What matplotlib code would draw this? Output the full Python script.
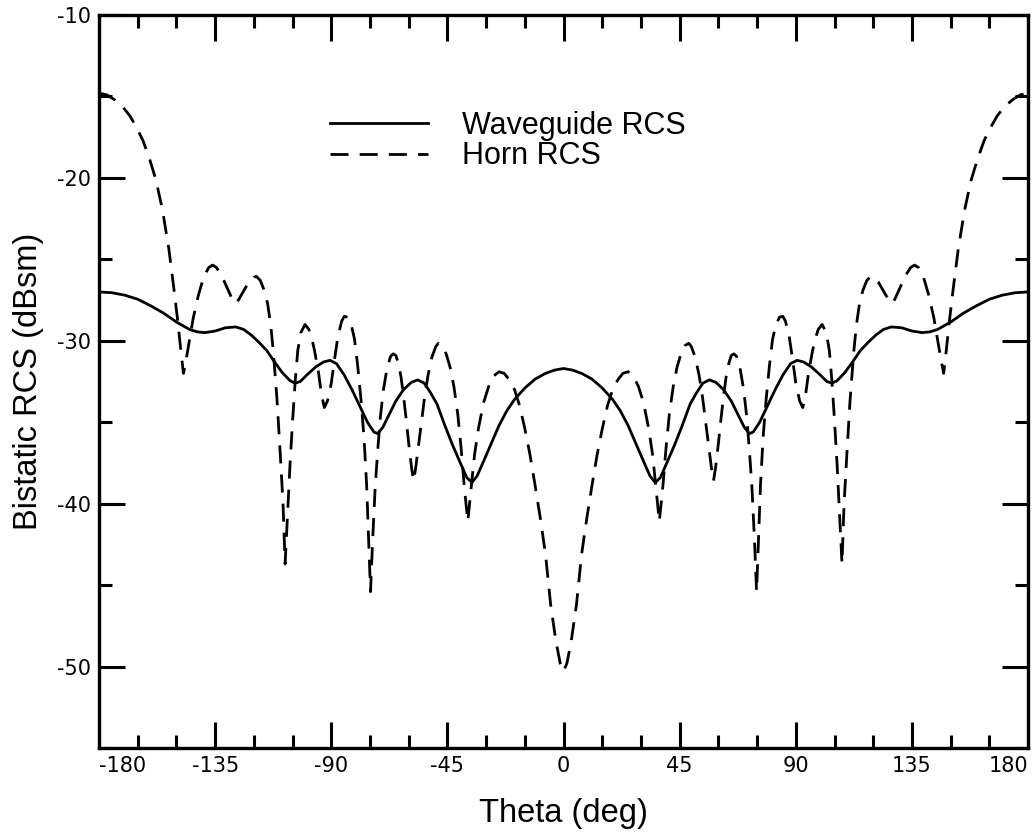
import matplotlib
matplotlib.use("Agg")
import matplotlib.pyplot as plt
from matplotlib.ticker import MultipleLocator

# Waveguide RCS (solid)
wg_theta = [
    -180, -175, -170, -165, -160, -155, -150, -145, -142, -139,
    -135, -131, -127, -124, -121, -118, -115, -112, -109, -106,
    -104, -102, -99.5, -96, -93, -90.5, -88, -85, -82, -79,
    -76, -73.5, -72, -70, -67.5, -65, -62, -59, -56.5, -54,
    -51.5, -49, -46, -43, -40, -37.5, -35.5, -33.5, -31, -28,
    -25, -22, -19, -15, -11, -7, -3.5, 0,
    3.5, 7, 11, 15, 19, 22, 25, 28, 31, 33.5,
    35.5, 37.5, 40, 43, 46, 49, 51.5, 54, 56.5, 59,
    62, 65, 67.5, 70, 72, 73.5, 76, 79, 82, 85,
    88, 90.5, 93, 96, 99.5, 102, 104, 106, 109, 112,
    115, 118, 121, 124, 127, 131, 135, 139, 142, 145,
    150, 155, 160, 165, 170, 175, 180]
wg_rcs = [
    -27.0, -27.05, -27.2, -27.45, -27.85, -28.3, -28.85, -29.3, -29.45, -29.5,
    -29.4, -29.2, -29.15, -29.3, -29.65, -30.1, -30.6, -31.3, -31.95, -32.45,
    -32.6, -32.5, -32.1, -31.6, -31.3, -31.2, -31.4, -32.1, -33.0, -34.0,
    -35.0, -35.6, -35.7, -35.3, -34.5, -33.7, -33.0, -32.55, -32.4, -32.6,
    -33.2, -33.9, -35.2, -36.4, -37.5, -38.4, -38.7, -38.3, -37.4, -36.3,
    -35.2, -34.3, -33.6, -32.9, -32.35, -32.0, -31.8, -31.7,
    -31.8, -32.0, -32.35, -32.9, -33.6, -34.3, -35.2, -36.3, -37.4, -38.3,
    -38.7, -38.4, -37.5, -36.4, -35.2, -33.9, -33.2, -32.6, -32.4, -32.55,
    -33.0, -33.7, -34.5, -35.3, -35.7, -35.6, -35.0, -34.0, -33.0, -32.1,
    -31.4, -31.2, -31.3, -31.6, -32.1, -32.5, -32.6, -32.45, -31.95, -31.3,
    -30.6, -30.1, -29.65, -29.3, -29.15, -29.2, -29.4, -29.5, -29.45, -29.3,
    -28.85, -28.3, -27.85, -27.45, -27.2, -27.05, -27.0]

# Horn RCS (dashed)
horn_theta = [
    -180, -177, -174, -171, -168, -165.5, -163, -160.5, -158, -155.5,
    -153, -151, -149.5, -148.3, -147.3, -146.3, -145, -143.5, -141.5, -139.5,
    -137.5, -136, -134.5, -132.5, -130.5, -128.5, -127.5, -126, -124, -122,
    -120, -119, -117.5, -116, -114.7, -113.5, -112.5, -111, -109.8, -108.7,
    -107.9, -107, -106, -105, -104, -103, -101.8, -100.2, -98.7, -97.5,
    -96.5, -95, -93.8, -92.7, -91.5, -90, -88.8, -87.5, -86, -85,
    -83.7, -82.3, -81, -79.8, -78.5, -77.3, -76.3, -75.5, -74.8, -74,
    -73, -72, -71, -69.8, -68.3, -67, -66, -65, -64, -63,
    -62, -61, -60, -58.9, -58.1, -57.3, -56.2, -55, -53.8, -52.5,
    -51, -49.5, -48.5, -47, -45.5, -44, -42.5, -41, -39.7, -38.5,
    -37.1, -35.8, -34.5, -33, -31, -29, -27, -25, -23, -21,
    -19, -17, -15, -13, -11, -9, -7, -5, -3, -1.3,
    0,
    1.3, 3, 5, 7, 9, 11, 13, 15, 17, 19,
    21, 23, 25, 27, 29, 31, 33, 34.5, 35.8, 37.1,
    38.5, 39.7, 41, 42.5, 44, 45.5, 47, 48.5, 49.5, 51,
    52.5, 53.8, 55, 56.2, 57.3, 58.1, 58.9, 60, 61, 62,
    63, 64, 65, 66, 67, 68.3, 69.8, 71, 72, 73,
    74, 74.8, 75.5, 76.3, 77.3, 78.5, 79.8, 81, 82.3, 83.7,
    85, 86, 87.5, 88.8, 90, 91.5, 92.7, 93.8, 95, 96.5,
    97.5, 98.7, 100.2, 101.8, 103, 104, 105, 106, 107, 107.9,
    108.7, 109.8, 111, 112.5, 113.5, 114.7, 116, 117.5, 119, 120,
    122, 124, 126, 127.5, 128.5, 130.5, 132.5, 134.5, 136, 137.5,
    139.5, 141.5, 143.5, 145, 146.3, 147.3, 148.3, 149.5, 151, 153,
    155.5, 158, 160.5, 163, 165.5, 168, 171, 174, 177, 180]
horn_rcs = [
    -14.8, -14.9, -15.2, -15.6, -16.2, -16.9, -17.7, -18.8, -20.1, -21.9,
    -24.3, -26.8, -28.8, -30.6, -32.0, -31.2, -30.0, -28.6, -27.2, -26.1,
    -25.5, -25.35, -25.5, -26.0, -26.7, -27.4, -27.7, -27.5, -26.95, -26.4,
    -26.1, -26.05, -26.3, -26.9, -27.7, -29.0, -30.6, -33.7, -36.9, -40.0,
    -43.7, -40.8, -37.6, -34.9, -32.5, -30.6, -29.5, -29.0, -29.3, -29.9,
    -30.6, -31.9, -33.3, -34.1, -33.7, -32.6, -31.2, -29.8, -28.8, -28.5,
    -28.55, -29.0, -29.9, -31.5, -33.6, -36.0, -38.9, -42.3, -45.4, -42.3,
    -39.0, -36.7, -34.7, -33.0, -31.6, -30.95, -30.8, -30.9, -31.4, -32.2,
    -33.4, -34.8, -36.3, -37.8, -38.6, -37.8, -36.4, -34.9, -33.4, -32.1,
    -31.0, -30.35, -30.15, -30.3, -30.8, -31.6, -32.8, -34.5, -36.6, -38.9,
    -41.1, -39.0, -37.0, -35.4, -33.8, -32.8, -32.15, -31.9, -32.0, -32.4,
    -33.0, -34.0, -35.4, -37.0, -38.9, -40.9, -43.1, -46.2, -48.4, -49.8,
    -50.3,
    -49.8, -48.4, -46.2, -43.1, -40.9, -38.9, -37.0, -35.4, -34.0, -33.0,
    -32.4, -32.0, -31.9, -32.15, -32.8, -33.8, -35.4, -37.0, -39.0, -41.1,
    -38.9, -36.6, -34.5, -32.8, -31.6, -30.8, -30.3, -30.15, -30.35, -31.0,
    -32.1, -33.4, -34.9, -36.4, -37.8, -38.6, -37.8, -36.3, -34.8, -33.4,
    -32.2, -31.4, -30.9, -30.8, -30.95, -31.6, -33.0, -34.7, -36.7, -39.0,
    -42.3, -45.4, -42.3, -38.9, -36.0, -33.6, -31.5, -29.9, -29.0, -28.55,
    -28.5, -28.8, -29.8, -31.2, -32.6, -33.7, -34.1, -33.3, -31.9, -30.6,
    -29.9, -29.3, -29.0, -29.5, -30.6, -32.5, -34.9, -37.6, -40.8, -43.7,
    -40.0, -36.9, -33.7, -30.6, -29.0, -27.7, -26.9, -26.3, -26.05, -26.1,
    -26.4, -26.95, -27.5, -27.7, -27.4, -26.7, -26.0, -25.5, -25.35, -25.5,
    -26.1, -27.2, -28.6, -30.0, -31.2, -32.0, -30.6, -28.8, -26.8, -24.3,
    -21.9, -20.1, -18.8, -17.7, -16.9, -16.2, -15.6, -15.2, -14.9, -14.8]

x_ticks = [-180, -135, -90, -45, 0, 45, 90, 135, 180]
y_ticks = [-50, -40, -30, -20, -10]

plt.rcParams['font.family'] = ['Liberation Sans', 'DejaVu Sans']
plt.rcParams['axes.unicode_minus'] = False

fig = plt.figure(figsize=(10.35, 8.35), dpi=100)
ax = fig.add_axes([0.0957, 0.1042, 0.8976, 0.8778])

ax.plot(wg_theta, wg_rcs, color='black', lw=2.0, label='Waveguide RCS')
ax.plot(horn_theta, horn_rcs, color='black', lw=2.0, linestyle=(0, (6.5, 4)),
        label='Horn RCS')

ax.set_xlim(-180, 180)
ax.set_ylim(-55, -10)
ax.set_xticks(x_ticks)
ax.set_yticks(y_ticks)
ax.xaxis.set_minor_locator(MultipleLocator(15))
ax.yaxis.set_minor_locator(MultipleLocator(5))

for s in ax.spines.values():
    s.set_linewidth(2.4)
ax.tick_params(which='both', direction='in', top=True, right=True, width=2.2)
ax.tick_params(which='major', length=19, pad=6)
ax.tick_params(which='minor', length=9.5)
for lab in ax.get_xticklabels() + ax.get_yticklabels():
    lab.set_fontfamily('DejaVu Sans')
    lab.set_fontsize(15)

# edge labels sit inside the frame, as in the original
ticks = ax.xaxis.get_major_ticks()
ticks[0].label1.set_horizontalalignment('left')
ticks[-1].label1.set_horizontalalignment('right')

ax.set_xlabel('Theta (deg)', fontsize=23.5, va='center')
ax.xaxis.set_label_coords(0.5, -0.0887)
ax.set_ylabel('Bistatic RCS (dBsm)', fontsize=23.5, va='center')
ax.yaxis.set_label_coords(-0.0755, 0.5)

ax.legend(loc='center left', bbox_to_anchor=(0.249, 0.828), frameon=False,
          fontsize=22, handlelength=3.2, handletextpad=1.1,
          labelspacing=0.02, borderpad=0, borderaxespad=0)

fig.savefig('out.png', dpi=100)
